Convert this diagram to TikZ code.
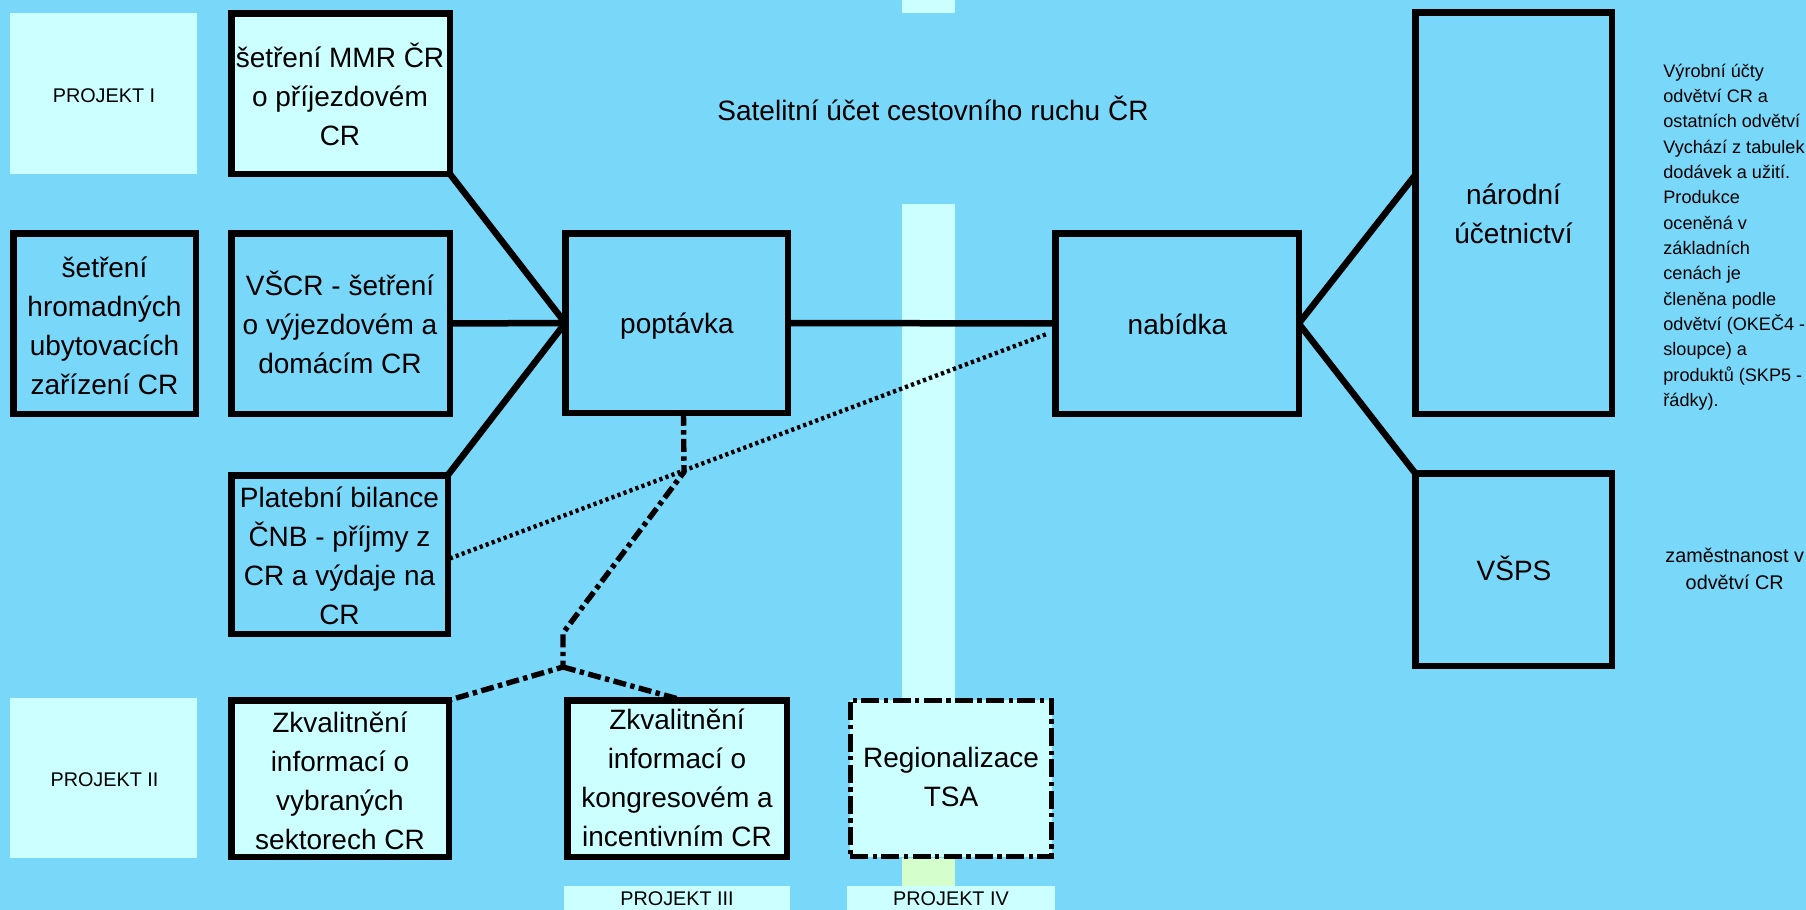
\documentclass[tikz,border=0pt]{standalone}
\usepackage{fontspec}
\setmainfont{Liberation Sans}
\definecolor{bg}{RGB}{121,216,250}
\definecolor{lc}{RGB}{204,255,255}
\definecolor{lg}{RGB}{212,255,204}
\newcommand\mkbox[6]{\node[#1, minimum width={(#5-#3-6.5)*0.5pt}, minimum height={(#6-#4-6.5)*0.5pt}] (#2) at ({(#3+#5)/2},{(#4+#6)/2}) {};}
\tikzset{
  bx/.style={rectangle, draw=black, line width=3.25pt, inner sep=0pt, outer sep=0pt},
  bxc/.style={bx, fill=lc},
  pj/.style={rectangle, draw=lc, fill=lc, line width=3.25pt, inner sep=0pt, outer sep=0pt},
  rg/.style={bx, fill=lc, line width=2.6pt, dash pattern=on 9pt off 2.2pt on 2.2pt off 2.2pt},
  conn/.style={line width=3.25pt},
  dotc/.style={line width=2.2pt, dash pattern=on 1.6pt off 1.6pt},
  ddc/.style={line width=2.7pt, dash pattern=on 6.5pt off 2.2pt on 2.2pt off 2.2pt},
  bt/.style={font=\fontsize{14}{19.5}\selectfont, align=center, inner sep=0pt, anchor=north},
  st/.style={font=\fontsize{14}{19.5}\selectfont, inner sep=0pt, anchor=base},
  pjt/.style={font=\fontsize{9.9}{12}\selectfont, inner sep=0pt, anchor=base},
  rt/.style={font=\fontsize{9.05}{12.67}\selectfont, align=left, inner sep=0pt, anchor=north west},
  zt/.style={font=\fontsize{9.9}{13.85}\selectfont, align=center, inner sep=0pt, anchor=north}
}
\begin{document}
\begin{tikzpicture}[x=0.5pt, y=-0.5pt]
\useasboundingbox (0,0) rectangle (1806,910);
\fill[bg] (0,0) rectangle (1806,910);
% vertical band
\fill[lc] (902,0) rectangle (955,13);
\fill[lc] (902,204) rectangle (955,700);
\fill[lg] (902,858) rectangle (955,888);
% boxes
\mkbox{pj}{p1}{10}{13}{197}{174}
\mkbox{bxc}{mmr}{228}{10}{453}{177}
\mkbox{bx}{hrom}{10}{230}{199}{417}
\mkbox{bx}{vscr}{228}{230}{453}{417}
\mkbox{bx}{plat}{228}{472}{451}{637}
\mkbox{bx}{popt}{562}{230}{791}{416}
\mkbox{bx}{nab}{1052}{230}{1302}{417}
\mkbox{bx}{nar}{1412}{9}{1615}{417}
\mkbox{bx}{vsps}{1412}{470}{1615}{669}
\mkbox{pj}{p2}{10}{698}{197}{858}
\mkbox{bxc}{zk1}{228}{697}{452}{860}
\mkbox{bxc}{zk2}{564}{697}{790}{860}
\mkbox{rg}{reg}{847}{697}{1055}{860}
\mkbox{pj}{p3}{564}{886}{790}{915}
\mkbox{pj}{p4}{847}{886}{1055}{915}
% connector helper points
\path (nar.west) ++(0,-38) coordinate (narIn);
\path (nab.west) ++(-7,10) coordinate (dotEnd);
\path (plat.east) ++(2,4) coordinate (dotStart);
\path (popt.south) ++(7,0) coordinate (dA);
\coordinate (j1) at (684,472);
\coordinate (j2) at (563,633);
\coordinate (j3) at (563,667);
\path (zk2.north) ++(6,0) coordinate (dB);
% solid connectors
\draw[conn] (mmr.south east) -- (popt.west);
\draw[conn] (vscr.east) -- (popt.west);
\draw[conn] (plat.north east) -- (popt.west);
\draw[conn] (popt.east) -- (nab.west);
\draw[conn] (nab.east) -- (narIn);
\draw[conn] (nab.east) -- (vsps.north west);
% dotted connector
\draw[dotc] (dotStart) -- (dotEnd);
% dash-dot connectors
\draw[ddc] (dA) -- (j1) -- (j2) -- (j3) -- (zk1.north east);
\draw[ddc] (j3) -- (dB);
% texts
\node[st] (title) at (933,120) {Satelitní účet cestovního ruchu ČR};
\node[pjt] (p1t) at (104,102.3) {PROJEKT I};
\node[pjt] (p2t) at (104.5,786) {PROJEKT II};
\node[pjt] (p3t) at (677,905.5) {PROJEKT III};
\node[pjt] (p4t) at (951,905.5) {PROJEKT IV};
\node[bt] (mmrt) at (340,39.4) {\strut šetření MMR ČR\\o příjezdovém\\CR};
\node[bt] (hromt) at (104.5,249.5) {\strut šetření\\hromadných\\ubytovacích\\zařízení CR};
\node[bt] (vscrt) at (340,267.7) {\strut VŠCR - šetření\\o výjezdovém a\\domácím CR};
\node[bt] (platt) at (339.5,480) {\strut Platební bilance\\ČNB - příjmy z\\CR a výdaje na\\CR};
\node[bt] (zk1t) at (340,704.4) {\strut Zkvalitnění\\informací o\\vybraných\\sektorech CR};
\node[bt] (zk2t) at (677,702) {\strut Zkvalitnění\\informací o\\kongresovém a\\incentivním CR};
\node[bt] (regt) at (951,740) {\strut Regionalizace\\TSA};
\node[bt] (nart) at (1513.5,176.5) {\strut národní\\účetnictví};
\node[st] (poptt) at (677,333.3) {poptávka};
\node[st] (nabt) at (1177.5,334) {nabídka};
\node[st] (vspst) at (1514,580) {VŠPS};
\node[rt] (vyr) at (1663,59) {\strut Výrobní účty\\odvětví CR a\\ostatních odvětví\\Vychází z tabulek\\dodávek a užití.\\Produkce\\oceněná v\\základních\\cenách je\\členěna podle\\odvětví (OKEČ4 -\\sloupce) a\\produktů (SKP5 -\\řádky).};
\node[zt] (zam) at (1734.7,542.3) {\strut zaměstnanost v\\odvětví CR};
\end{tikzpicture}
\end{document}
